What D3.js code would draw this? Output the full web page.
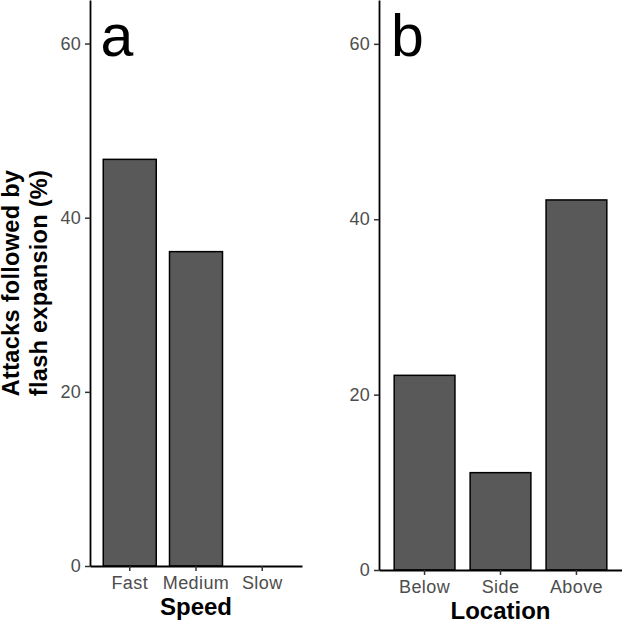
<!DOCTYPE html>
<html>
<head>
<meta charset="utf-8">
<script src="https://cdn.jsdelivr.net/npm/d3@7"></script>
<style>
  body { margin: 0; background: #fff; }
  svg { display: block; font-family: "Liberation Sans", Arial, sans-serif; }
</style>
</head>
<body>
<svg id="chart" width="622" height="622"></svg>
<script>
// data
var speedCats = ["Fast", "Medium", "Slow"];
var speedVals = [46.7, 36.1, 0];
var locCats = ["Below", "Side", "Above"];
var locVals = [22.2, 11.1, 42.2];
var yTicks = [0, 20, 40, 60];
var yMax = 65;

var svg = d3.select("#chart");

function drawPanel(cats, vals, opts) {
    var g = svg.append("g");

    var x = d3.scaleBand()
        .domain(cats)
        .range([opts.left, opts.right])
        .paddingInner(0.2)
        .paddingOuter(0.2);

    var y = d3.scaleLinear()
        .domain([0, yMax])
        .range([opts.bottom, 0]);

    // bars
    g.selectAll("rect.bar")
        .data(cats)
        .enter().append("rect")
        .attr("class", "bar")
        .attr("x", function(d) { return x(d); })
        .attr("width", x.bandwidth())
        .attr("y", function(d, i) { return y(vals[i]); })
        .attr("height", function(d, i) { return y(0) - y(vals[i]); })
        .attr("fill", "#595959")
        .attr("stroke", "black")
        .attr("stroke-width", 1.5)
        .attr("display", function(d, i) { return vals[i] > 0 ? null : "none"; });

    // y axis
    var yAxis = g.append("g")
        .attr("transform", "translate(" + opts.left + ",0)")
        .call(d3.axisLeft(y).tickValues(yTicks).tickSize(5).tickPadding(4).tickSizeOuter(0));
    yAxis.select(".domain").attr("stroke", "black").attr("stroke-width", 1.8);
    yAxis.selectAll(".tick line").attr("stroke", "#333").attr("stroke-width", 1.5);
    yAxis.selectAll(".tick text")
        .attr("fill", "#4d4d4d")
        .attr("font-size", "18px")
        .attr("letter-spacing", "0.3px")
        .attr("font-family", "Liberation Sans, Arial, sans-serif");

    // x axis
    var xAxis = g.append("g")
        .attr("transform", "translate(0," + opts.bottom + ")")
        .call(d3.axisBottom(x).tickSize(5).tickPadding(5).tickSizeOuter(0));
    xAxis.select(".domain").attr("stroke", "black").attr("stroke-width", 1.8);
    xAxis.selectAll(".tick line").attr("stroke", "#333").attr("stroke-width", 1.5);
    xAxis.selectAll(".tick text")
        .attr("fill", "#4d4d4d")
        .attr("font-size", "18px")
        .attr("letter-spacing", "0.4px")
        .attr("font-family", "Liberation Sans, Arial, sans-serif");

    // x title
    g.append("text")
        .text(opts.xTitle)
        .attr("x", (opts.left + opts.right) / 2)
        .attr("y", opts.bottom + 49)
        .attr("text-anchor", "middle")
        .attr("font-weight", "bold")
        .attr("font-size", "24px")
        .attr("fill", "black");

    // panel letter
    g.append("text")
        .text(opts.letter)
        .attr("x", opts.left + opts.letterDx)
        .attr("y", 56)
        .attr("font-size", "59px")
        .attr("fill", "black");

    return y;
}

drawPanel(speedCats, speedVals, {left: 90, right: 302, bottom: 566, xTitle: "Speed", letter: "a", letterDx: 10.5});
drawPanel(locCats, locVals, {left: 379, right: 622, bottom: 570, xTitle: "Location", letter: "b", letterDx: 12});

// y title (two lines)
var yTitle = ["Attacks followed by", "flash expansion (%)"];
svg.selectAll("text.ytitle")
    .data(yTitle)
    .enter().append("text")
    .attr("class", "ytitle")
    .text(function(d) { return d; })
    .attr("transform", function(d, i) { return "translate(" + (18.5 + i * 28) + ",283) rotate(-90)"; })
    .attr("text-anchor", "middle")
    .attr("font-weight", "bold")
    .attr("font-size", "23.5px")
    .attr("letter-spacing", "0.3px")
    .attr("fill", "black");
</script>
</body>
</html>
